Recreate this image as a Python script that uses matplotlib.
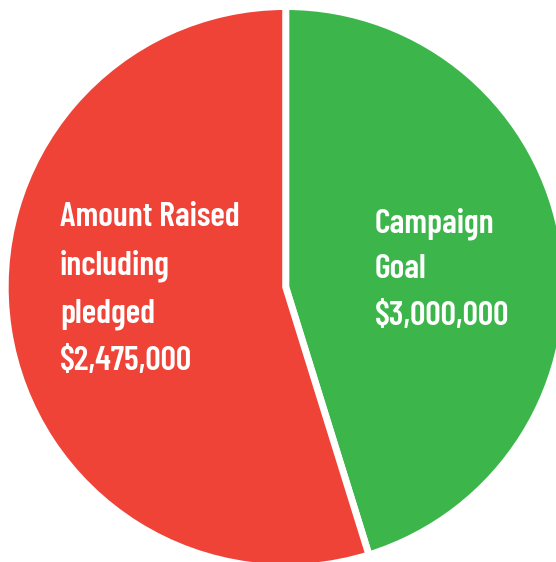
import matplotlib
matplotlib.use("Agg")
import matplotlib.pyplot as plt

# Data (slice sizes as drawn in the reference)
slice_values = [2475000, 3000000]
slice_colors = ["#3CB64B", "#EF4338"]
label_texts = ["Campaign\nGoal\n$3,000,000",
               "Amount Raised\nincluding\npledged\n$2,475,000"]

W, H = 556, 562
fig = plt.figure(figsize=(W / 100, H / 100), dpi=100)
ax = fig.add_axes([0, 0, 1, 1])

cx, cy, r = 285.7, H - 287, 280.5
ax.pie(slice_values, colors=slice_colors, startangle=90, counterclock=False,
       center=(cx, cy), radius=r, frame=True,
       wedgeprops=dict(edgecolor="white", linewidth=5))
ax.set_xlim(0, W)
ax.set_ylim(0, H)
ax.set_aspect("equal")
ax.axis("off")

font = dict(family=["Barlow Condensed", "DejaVu Sans"], weight=600,
            color="white", fontsize=24.5, ha="left", va="baseline")

# label positions: (x, first baseline from top, line pitch)
label_pos = [(375, 232, 46.5), (60, 226, 48)]
for txt, (x, y0, pitch) in zip(label_texts, label_pos):
    for i, line in enumerate(txt.split("\n")):
        ax.text(x, H - (y0 + i * pitch), line, **font)

fig.savefig("out.png", dpi=100)
